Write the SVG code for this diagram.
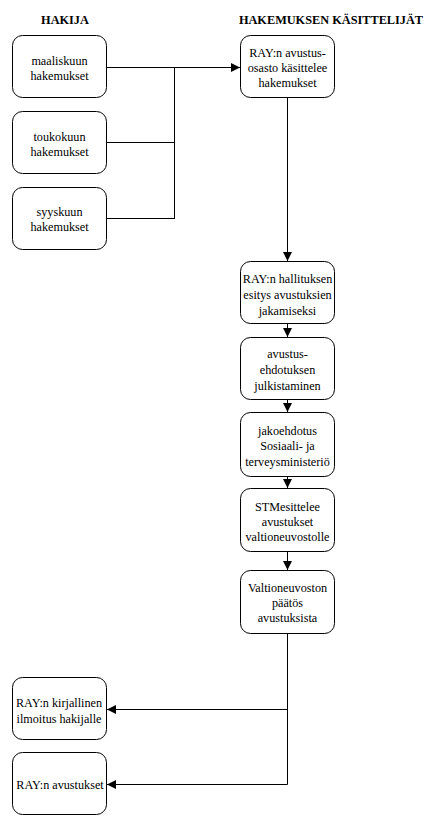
<svg xmlns="http://www.w3.org/2000/svg" width="434" height="828" viewBox="0 0 434 828">
<style>
.box{fill:#fff;stroke:#000;stroke-width:1}
.c{fill:none;stroke:#000;stroke-width:1}
</style>
<defs>
<marker id="ah" viewBox="0 0 10 10" refX="10" refY="5" markerWidth="10" markerHeight="9" markerUnits="userSpaceOnUse" orient="auto">
<path d="M0,0 L10,5 L0,10 z" fill="#000"/>
</marker>
</defs>
<rect width="434" height="828" fill="#fff"/>
<text x="65" y="24" font-family="'Liberation Serif', 'Times New Roman', serif" font-size="12.3" font-weight="bold" text-anchor="middle">HAKIJA</text>
<text x="331" y="24" font-family="'Liberation Serif', 'Times New Roman', serif" font-size="12.3" font-weight="bold" text-anchor="middle">HAKEMUKSEN KÄSITTELIJÄT</text>
<g id="connectors">
<path class="c" d="M107,67.5 H240" marker-end="url(#ah)"/>
<path class="c" d="M107,142.5 H175"/>
<path class="c" d="M107,218.5 H175"/>
<path class="c" d="M174.5,67.5 V218.5"/>
<path class="c" d="M287.5,98 V261" marker-end="url(#ah)"/>
<path class="c" d="M287.5,324 V337" marker-end="url(#ah)"/>
<path class="c" d="M287.5,400 V412" marker-end="url(#ah)"/>
<path class="c" d="M287.5,477 V488" marker-end="url(#ah)"/>
<path class="c" d="M287.5,552 V570" marker-end="url(#ah)"/>
<path class="c" d="M287.5,633 V784.5"/>
<path class="c" d="M287.5,709.5 H107" marker-end="url(#ah)"/>
<path class="c" d="M287.5,784.5 H107" marker-end="url(#ah)"/>
</g>
<g id="n1"><rect class="box" x="12.5" y="35.5" width="94" height="62" rx="10"/>
<text x="59.5" y="65" font-family="'Liberation Serif', 'Times New Roman', serif" font-size="12.2" text-anchor="middle">maaliskuun</text><text x="59.5" y="80" font-family="'Liberation Serif', 'Times New Roman', serif" font-size="12.2" text-anchor="middle">hakemukset</text></g>
<g id="n2"><rect class="box" x="12.5" y="111.5" width="94" height="62" rx="10"/>
<text x="59.5" y="141" font-family="'Liberation Serif', 'Times New Roman', serif" font-size="12.2" text-anchor="middle">toukokuun</text><text x="59.5" y="156" font-family="'Liberation Serif', 'Times New Roman', serif" font-size="12.2" text-anchor="middle">hakemukset</text></g>
<g id="n3"><rect class="box" x="12.5" y="187.5" width="94" height="62" rx="10"/>
<text x="59.5" y="216" font-family="'Liberation Serif', 'Times New Roman', serif" font-size="12.2" text-anchor="middle">syyskuun</text><text x="59.5" y="231" font-family="'Liberation Serif', 'Times New Roman', serif" font-size="12.2" text-anchor="middle">hakemukset</text></g>
<g id="n4"><rect class="box" x="240.5" y="35.5" width="94" height="62" rx="10"/>
<text x="287.5" y="57" font-family="'Liberation Serif', 'Times New Roman', serif" font-size="12.2" text-anchor="middle">RAY:n avustus-</text><text x="287.5" y="72" font-family="'Liberation Serif', 'Times New Roman', serif" font-size="12.2" text-anchor="middle">osasto käsittelee</text><text x="287.5" y="87" font-family="'Liberation Serif', 'Times New Roman', serif" font-size="12.2" text-anchor="middle">hakemukset</text></g>
<g id="n5"><rect class="box" x="240.5" y="261.5" width="94" height="62" rx="10"/>
<text x="287.5" y="283" font-family="'Liberation Serif', 'Times New Roman', serif" font-size="12.2" text-anchor="middle">RAY:n hallituksen</text><text x="287.5" y="299" font-family="'Liberation Serif', 'Times New Roman', serif" font-size="12.2" text-anchor="middle">esitys avustuksien</text><text x="287.5" y="315" font-family="'Liberation Serif', 'Times New Roman', serif" font-size="12.2" text-anchor="middle">jakamiseksi</text></g>
<g id="n6"><rect class="box" x="240.5" y="337.5" width="94" height="62" rx="10"/>
<text x="287.5" y="358" font-family="'Liberation Serif', 'Times New Roman', serif" font-size="12.2" text-anchor="middle">avustus-</text><text x="287.5" y="374" font-family="'Liberation Serif', 'Times New Roman', serif" font-size="12.2" text-anchor="middle">ehdotuksen</text><text x="287.5" y="390" font-family="'Liberation Serif', 'Times New Roman', serif" font-size="12.2" text-anchor="middle">julkistaminen</text></g>
<g id="n7"><rect class="box" x="240.5" y="412.5" width="94" height="64" rx="10"/>
<text x="287.5" y="435" font-family="'Liberation Serif', 'Times New Roman', serif" font-size="12.2" text-anchor="middle">jakoehdotus</text><text x="287.5" y="450" font-family="'Liberation Serif', 'Times New Roman', serif" font-size="12.2" text-anchor="middle">Sosiaali- ja</text><text x="287.5" y="466" font-family="'Liberation Serif', 'Times New Roman', serif" font-size="12.2" text-anchor="middle">terveysministeriö</text></g>
<g id="n8"><rect class="box" x="240.5" y="488.5" width="94" height="63" rx="10"/>
<text x="287.5" y="511" font-family="'Liberation Serif', 'Times New Roman', serif" font-size="12.2" text-anchor="middle">STMesittelee</text><text x="287.5" y="526" font-family="'Liberation Serif', 'Times New Roman', serif" font-size="12.2" text-anchor="middle">avustukset</text><text x="287.5" y="541" font-family="'Liberation Serif', 'Times New Roman', serif" font-size="12.2" text-anchor="middle">valtioneuvostolle</text></g>
<g id="n9"><rect class="box" x="240.5" y="570.5" width="94" height="63" rx="10"/>
<text x="287.5" y="592" font-family="'Liberation Serif', 'Times New Roman', serif" font-size="12.2" text-anchor="middle">Valtioneuvoston</text><text x="287.5" y="607" font-family="'Liberation Serif', 'Times New Roman', serif" font-size="12.2" text-anchor="middle">päätös</text><text x="287.5" y="622" font-family="'Liberation Serif', 'Times New Roman', serif" font-size="12.2" text-anchor="middle">avustuksista</text></g>
<g id="n10"><rect class="box" x="12.5" y="677.5" width="94" height="62" rx="10"/>
<text x="59" y="707" font-family="'Liberation Serif', 'Times New Roman', serif" font-size="12.2" text-anchor="middle">RAY:n kirjallinen</text><text x="59" y="723" font-family="'Liberation Serif', 'Times New Roman', serif" font-size="12.2" text-anchor="middle">ilmoitus hakijalle</text></g>
<g id="n11"><rect class="box" x="12.5" y="752.5" width="94" height="62" rx="10"/>
<text x="60" y="789" font-family="'Liberation Serif', 'Times New Roman', serif" font-size="12.2" text-anchor="middle">RAY:n avustukset</text></g>
</svg>
